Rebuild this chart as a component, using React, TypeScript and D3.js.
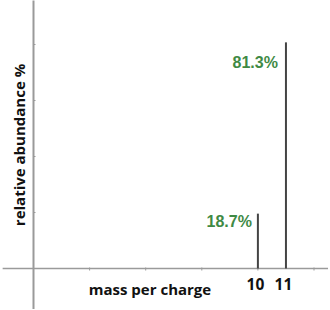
import React from "react";
import * as d3 from "d3";

const masses = [10, 11];
const abundances = [18.7, 81.3];
const labels = ["18.7%", "81.3%"];
const xTickValues = [4, 6, 8, 10, 12];
const xTickLabels = ["10", "11"];
const yTickValues = [20, 40, 60, 80];

const W = 330;
const H = 310;

export default function App() {
  const x = d3.scaleLinear().domain([2, 12]).range([33.5, 314]);
  const y = d3.scaleLinear().domain([0, 80]).range([268.5, 44.5]);
  const axisColor = "#9a9a9a";
  const font = "'Open Sans', 'DejaVu Sans', sans-serif";
  const labelOffsets = [{ dx: -6, dy: 11 }, { dx: -8, dy: 27 }];
  return (
    <svg
      width={W}
      height={H}
      style={{ position: "absolute", left: 0, top: 0, background: "#fff" }}
    >
      {/* x axis */}
      <line x1={x(0.9)} x2={x(12.5)} y1={y(0)} y2={y(0)} stroke={axisColor} strokeWidth={1.5} />
      {xTickValues.map((t) => (
        <line key={t} x1={x(t)} x2={x(t)} y1={y(0) - 1} y2={y(0) + 2} stroke={axisColor} strokeWidth={1} />
      ))}
      {/* y axis */}
      <line x1={x(2)} x2={x(2)} y1={y(95.7)} y2={y(-14.5)} stroke={axisColor} strokeWidth={2} />
      {yTickValues.map((t) => (
        <line key={t} x1={x(2)} x2={x(2) + 2} y1={y(t)} y2={y(t)} stroke={axisColor} strokeWidth={1} />
      ))}
      {/* bars */}
      {masses.map((m, i) => (
        <line key={m} x1={x(m)} x2={x(m)} y1={y(0)} y2={y(abundances[i]) + (i === 0 ? -2.5 : 1.5)} stroke="#444" strokeWidth={2} />
      ))}
      {/* value labels */}
      {masses.map((m, i) => (
        <text
          key={"l" + m}
          x={x(m) + labelOffsets[i].dx}
          y={y(abundances[i]) + labelOffsets[i].dy}
          textAnchor="end"
          fontFamily="'Liberation Sans', Arial, sans-serif"
          fontWeight="bold"
          fontSize={16}
          fill="#3f8a45"
        >
          {labels[i]}
        </text>
      ))}
      {/* x tick labels */}
      {masses.map((m, i) => (
        <text key={"t" + m} x={x(m) - 2.5} y={290} textAnchor="middle" fontFamily={font} fontWeight="bold" fontSize={15.5} fill="#111">
          {xTickLabels[i]}
        </text>
      ))}
      <text x={150} y={295} textAnchor="middle" fontFamily={font} fontWeight="bold" fontSize={15} fill="#111">
        mass per charge
      </text>
      <text
        transform={`translate(25,145) rotate(-90)`}
        textAnchor="middle"
        fontFamily={font}
        fontWeight="bold"
        fontSize={15}
        fill="#111"
      >
        relative abundance %
      </text>
    </svg>
  );
}
